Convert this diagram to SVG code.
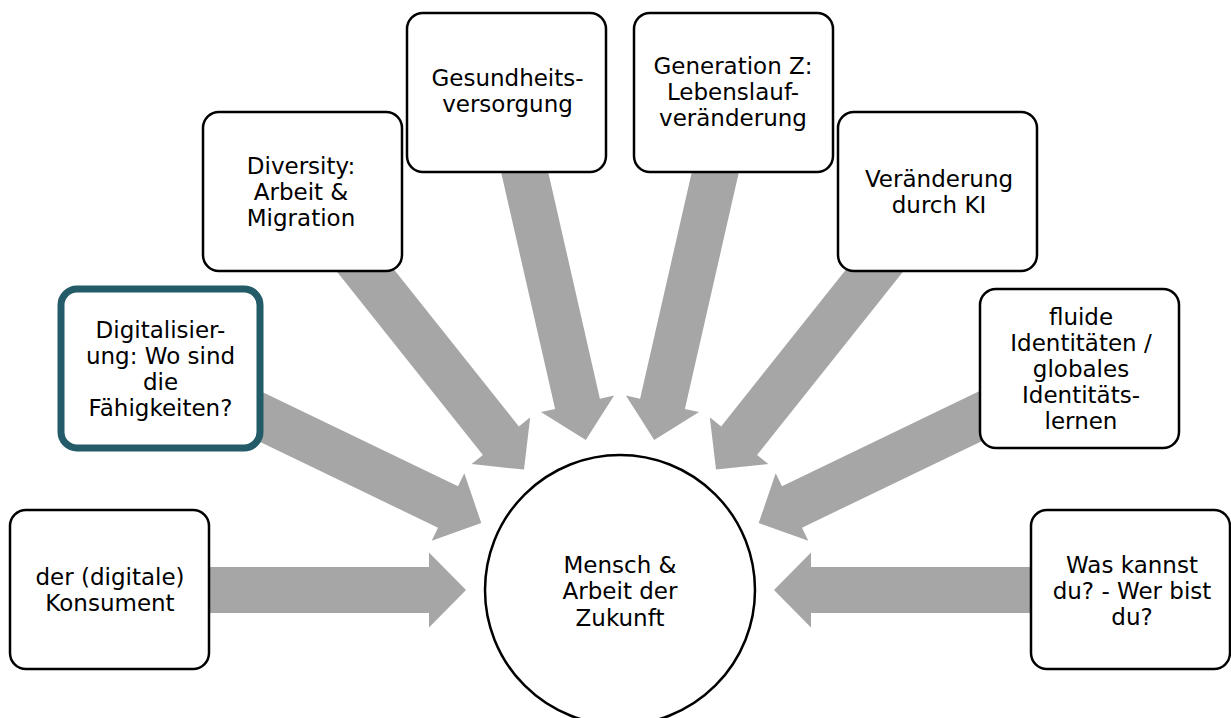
<svg xmlns="http://www.w3.org/2000/svg" width="1231" height="718" viewBox="0 0 1231 718">
<style>
.box{fill:#ffffff;stroke:#000000;stroke-width:2.5}
.hl{fill:#ffffff;stroke:#235B68;stroke-width:7}
.arrow{fill:#A6A6A6;stroke:none}
text{font-family:"DejaVu Sans","Liberation Sans",sans-serif;font-size:23px;fill:#000000;text-anchor:middle}
</style>
<rect width="1231" height="718" fill="#ffffff"/>
<g id="connectors">
<polygon class="arrow" points="109.5,567 429,567 429,552.5 466,590 429,627.5 429,613 109.5,613"/>
<polygon class="arrow" points="1130.5,567 811,567 811,552.5 774,590 811,627.5 811,613 1130.5,613"/>
<polygon class="arrow" points="170.5,347.8 458.0,486.3 464.3,473.2 481.3,523.1 431.7,540.8 438.0,527.7 150.5,389.2"/>
<polygon class="arrow" points="1069.5,347.8 782.0,486.3 775.7,473.2 758.7,523.1 808.3,540.8 802.0,527.7 1089.5,389.2"/>
<polygon class="arrow" points="320.5,177.2 518.9,426.4 530.2,417.3 524.0,469.6 471.6,464.1 482.9,455.0 284.5,205.8"/>
<polygon class="arrow" points="919.5,177.2 721.1,426.4 709.8,417.3 716.0,469.6 768.4,464.1 757.1,455.0 955.5,205.8"/>
<polygon class="arrow" points="528.9,87.4 599.9,398.7 614.1,395.5 585.8,439.9 540.9,412.1 555.1,408.9 484.1,97.6"/>
<polygon class="arrow" points="711.1,87.4 640.1,398.7 625.9,395.5 654.2,439.9 699.1,412.1 684.9,408.9 755.9,97.6"/>
</g>
<g id="center">
<circle class="box" cx="620" cy="590" r="135"/>
<text x="620" y="573">Mensch &amp;</text>
<text x="620" y="599">Arbeit der</text>
<text x="620" y="626">Zukunft</text>
</g>
<g id="konsument">
<rect class="box" x="10" y="510" width="199" height="159" rx="16"/>
<text x="110" y="585">der (digitale)</text>
<text x="110" y="611">Konsument</text>
</g>
<g id="digitalisierung">
<rect class="hl" x="61" y="289" width="199" height="159" rx="16"/>
<text x="160.5" y="338">Digitalisier-</text>
<text x="160.5" y="364">ung: Wo sind</text>
<text x="160.5" y="390">die</text>
<text x="160.5" y="416">Fähigkeiten?</text>
</g>
<g id="diversity">
<rect class="box" x="203" y="112" width="199" height="159" rx="16"/>
<text x="301" y="174">Diversity:</text>
<text x="301" y="200">Arbeit &amp;</text>
<text x="301" y="226">Migration</text>
</g>
<g id="gesundheit">
<rect class="box" x="407" y="13" width="199" height="159" rx="16"/>
<text x="507.5" y="86">Gesundheits-</text>
<text x="507.5" y="112">versorgung</text>
</g>
<g id="generation">
<rect class="box" x="634" y="13" width="199" height="159" rx="16"/>
<text x="733" y="74">Generation Z:</text>
<text x="733" y="100">Lebenslauf-</text>
<text x="733" y="126">veränderung</text>
</g>
<g id="ki">
<rect class="box" x="838" y="112" width="199" height="159" rx="16"/>
<text x="939" y="187">Veränderung</text>
<text x="939" y="213">durch KI</text>
</g>
<g id="fluide">
<rect class="box" x="980" y="289" width="199" height="159" rx="16"/>
<text x="1081" y="325">fluide</text>
<text x="1081" y="351">Identitäten /</text>
<text x="1081" y="377">globales</text>
<text x="1081" y="403">Identitäts-</text>
<text x="1081" y="429">lernen</text>
</g>
<g id="waskannst">
<rect class="box" x="1031" y="510" width="199" height="159" rx="16"/>
<text x="1132" y="573">Was kannst</text>
<text x="1132" y="599">du? - Wer bist</text>
<text x="1132" y="625">du?</text>
</g>
</svg>
